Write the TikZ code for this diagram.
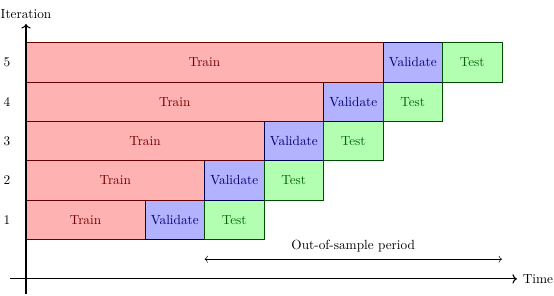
\documentclass[tikz,border=0pt]{standalone}
\usepackage{tikz}
\usetikzlibrary{arrows.meta,positioning,calc}
\tikzset{
  fold/.style={rectangle, draw, inner sep=0pt, outer sep=0pt, minimum height=1.044cm},
  train/.style={fold, fill=red!30, draw=red!40!black, text=red!45!black},
  valid/.style={fold, fill=blue!30, draw=blue!30!black, text=blue!45!black, minimum width=1.577cm},
  test/.style={fold, fill=green!30, draw=green!30!black, text=green!40!black, minimum width=1.577cm},
  axis/.style={->, thick},
  lbl/.style={inner sep=2pt}
}
\begin{document}
\begin{tikzpicture}[x=1.577cm, y=1.044cm]
\useasboundingbox (-0.437,-0.43) rectangle (8.874,7.08);

% --- Folds (one row per iteration) ---
\foreach \k in {1,...,5} {
    \node[train, anchor=south west, minimum width={(\k+1)*1.577cm}] (train\k) at (0,\k) {Train};
    \node[valid, right=0pt of train\k] (valid\k) {Validate};
    \node[test, right=0pt of valid\k] (test\k) {Test};
    \node[lbl] (it\k) at (-0.32,\k+0.5) {\k};
}

% --- Axes ---
\coordinate (xstart) at (-0.27,0);
\coordinate (xend) at (8.25,0);
\coordinate (ystart) at (0,-0.38);
\coordinate (yend) at (0,6.47);
\draw[axis] (xstart) -- (xend);
\draw[axis] (ystart) -- (yend);
\node[right=1pt of xend] (timelbl) {Time};
\node (iterlbl) at (0,6.72) {Iteration};

% --- Out-of-sample period ---
\coordinate (oosA) at (test1.west |- 0,0.5);
\coordinate (oosB) at (test5.east |- 0,0.5);
\draw[<->] (oosA) -- (oosB) node[midway, above=2pt] (ooslbl) {Out-of-sample period};

\end{tikzpicture}
\end{document}
